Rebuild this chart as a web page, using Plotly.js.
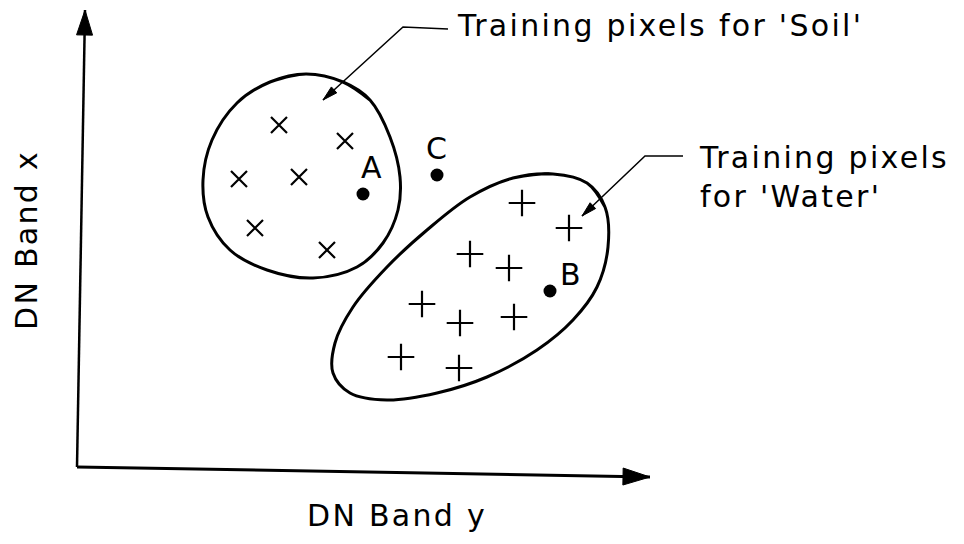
<!DOCTYPE html>
<html><head><meta charset="utf-8">
<script src="https://cdn.plot.ly/plotly-3.0.1.min.js"></script>
<style>
html,body{margin:0;padding:0;background:#fff;}
#chart{width:964px;height:544px;}
.annotation-text{letter-spacing:2.3px;}
</style></head><body><div id="chart"></div>
<script>
// Feature space: horizontal = DN Band y, vertical = DN Band x (drawing units)
const soilPixelsH  = [279, 345, 239, 299, 255, 327];
const soilPixelsV  = [125, 141, 179, 177, 228, 250];
const waterPixelsH = [522, 569, 470, 509, 422, 460, 514, 401, 459];
const waterPixelsV = [203, 228, 254, 268, 304, 323, 317, 357, 368];
const unknownNames = ['A', 'B', 'C'];
const unknownH     = [363, 550, 437];
const unknownV     = [194, 291, 175];
// training-area outlines
const soilBoundH  = [306, 343, 370, 390, 400, 398, 383, 357, 313, 267, 230, 208, 203, 212, 237, 270];
const soilBoundV  = [74, 82, 100, 137, 177, 210, 243, 267, 278, 270, 250, 217, 180, 140, 103, 82];
const waterBoundH = [553, 587, 605, 608, 597, 573, 537, 487, 437, 387, 350, 333, 335, 353, 387, 427, 470, 513];
const waterBoundV = [174, 183, 207, 247, 287, 320, 350, 377, 393, 400, 393, 373, 343, 307, 267, 230, 197, 178];
// axes and leader lines
const axisVertH = [77, 85],   axisVertV = [467, 10];
const axisHorzH = [77, 650],  axisHorzV = [467, 477];
const soilLeadH = [448, 403, 323],  soilLeadV = [29, 27, 100];
const waterLeadH = [683, 645, 582], waterLeadV = [156, 156, 216];
// text
const soilLabel = "Training pixels for 'Soil'";
const waterLabel = "Training pixels<br>for 'Water'";
const xTitle = "DN Band y";
const yTitle = "DN Band x";

function wrap(a){ return a.concat([a[0], a[1], a[2]]); }
function wrapStart(a){ return [a[a.length-1]].concat(wrap(a)); }

function head(hs, vs, len, wid){
  const n = hs.length;
  const tx = hs[n-1], ty = vs[n-1], fx = hs[n-2], fy = vs[n-2];
  const dx = tx - fx, dy = ty - fy, d = Math.hypot(dx, dy), ux = dx/d, uy = dy/d;
  const bx = tx - ux*len, by = ty - uy*len;
  return {x:[tx, bx - uy*wid/2, bx + uy*wid/2, tx], y:[ty, by + ux*wid/2, by - ux*wid/2, ty]};
}

const traces = [];
function line(hs, vs, w){
  traces.push({x:hs, y:vs, mode:'lines', line:{color:'#000', width:w}, hoverinfo:'skip', showlegend:false});
}
function filled(p){
  traces.push({x:p.x, y:p.y, mode:'lines', fill:'toself', fillcolor:'#000', line:{color:'#000', width:1}, hoverinfo:'skip', showlegend:false});
}
// outlines (closed smooth)
[[soilBoundH, soilBoundV], [waterBoundH, waterBoundV]].forEach(function(b){
  traces.push({x:wrapStart(b[0]), y:wrapStart(b[1]), mode:'lines',
    line:{color:'#000', width:3, shape:'spline', smoothing:1}, hoverinfo:'skip', showlegend:false});
});
line(axisVertH, axisVertV, 2.5); filled(head(axisVertH, axisVertV, 25, 16));
line(axisHorzH, axisHorzV, 3);   filled(head(axisHorzH, axisHorzV, 27, 17));
line(soilLeadH, soilLeadV, 1.5); filled(head(soilLeadH, soilLeadV, 15, 8));
line(waterLeadH, waterLeadV, 1.5); filled(head(waterLeadH, waterLeadV, 15, 8));

traces.push({x:soilPixelsH, y:soilPixelsV, mode:'markers', name:'Soil',
  marker:{symbol:'x-thin', size:16, line:{color:'#000', width:2.2}}, showlegend:false});
traces.push({x:waterPixelsH, y:waterPixelsV, mode:'markers', name:'Water',
  marker:{symbol:'cross-thin', size:19, line:{color:'#000', width:2.2}}, showlegend:false});
traces.push({x:unknownH, y:unknownV, mode:'markers', name:'Unknown', text:unknownNames,
  marker:{symbol:'circle', size:13, color:'#000'}, showlegend:false});

const F = {family:'DejaVu Sans', size:30, color:'#000'};
const labelShift = {A:[9, 27], B:[21, 17], C:[0, 27]};
const ann = unknownNames.map(function(n, i){
  return {x:unknownH[i], y:unknownV[i], text:n, showarrow:false, font:F,
    xshift:labelShift[n][0], yshift:labelShift[n][1], xanchor:'center', yanchor:'middle'};
});
ann.push({x:455, y:25, text:soilLabel, showarrow:false, font:F, xanchor:'left', yanchor:'middle'});
ann.push({x:697, y:177, text:waterLabel, showarrow:false, font:F, xanchor:'left', yanchor:'middle', align:'left'});
ann.push({x:397, y:515, text:xTitle, showarrow:false, font:F, xanchor:'center', yanchor:'middle'});
ann.push({x:26, y:240, text:yTitle, showarrow:false, font:F, textangle:-90, xanchor:'center', yanchor:'middle'});

const layout = {
  width:964, height:544, margin:{l:0, r:0, t:0, b:0},
  paper_bgcolor:'#fff', plot_bgcolor:'#fff',
  xaxis:{range:[0, 964], visible:false, fixedrange:true},
  yaxis:{range:[544, 0], visible:false, fixedrange:true},
  annotations:ann, showlegend:false
};
Plotly.newPlot('chart', traces, layout, {displayModeBar:false, staticPlot:true});
</script></body></html>
